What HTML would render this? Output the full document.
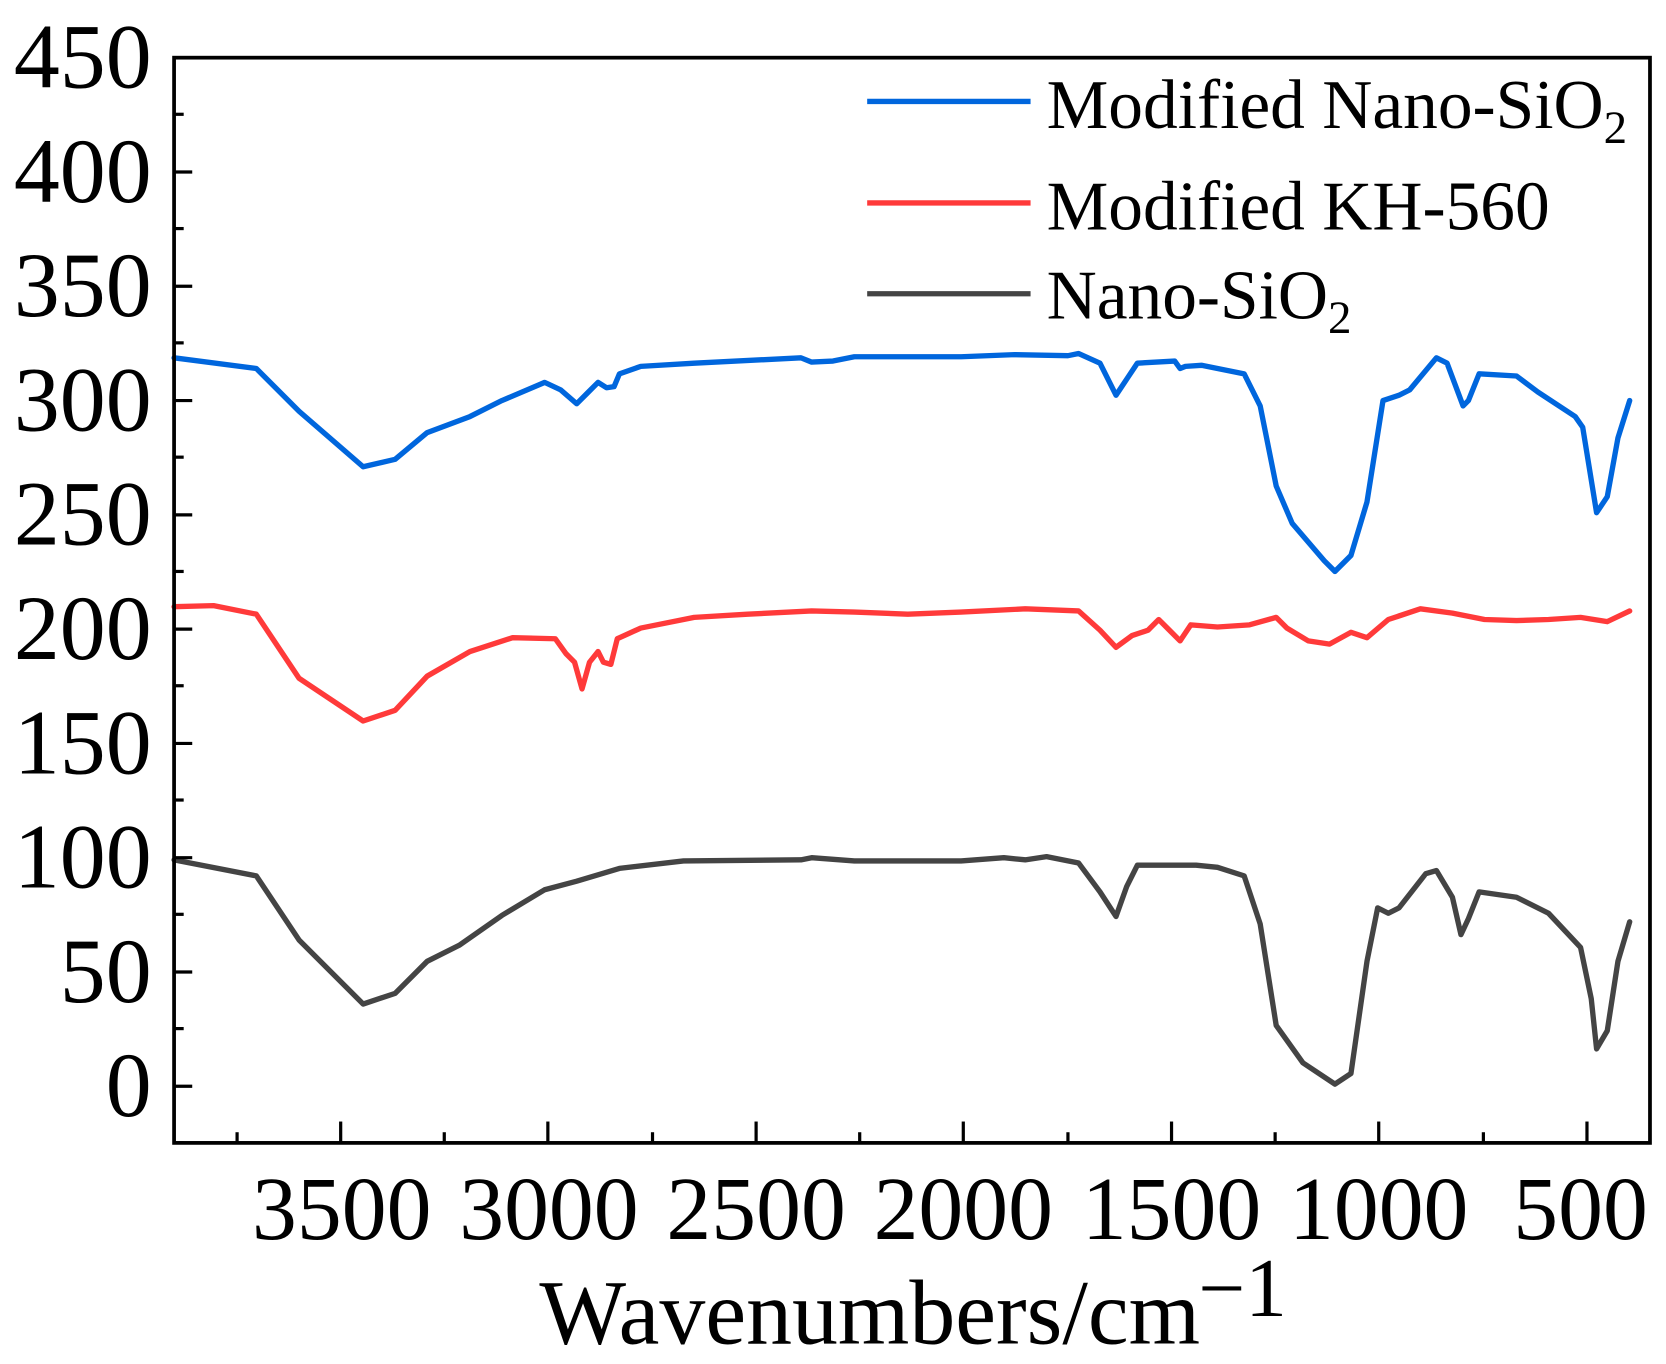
<!DOCTYPE html>
<html><head><style>html,body{margin:0;padding:0;background:#fff}svg{display:block}</style></head>
<body>
<svg width="1666" height="1364" viewBox="0 0 1560 1277" preserveAspectRatio="none" xmlns="http://www.w3.org/2000/svg" font-family="'Liberation Serif', serif">
<rect width="1560" height="1277" fill="#fff"/>
<g fill="none" stroke-linejoin="round" stroke-linecap="round" stroke-width="5">
<polyline stroke="#0066dd" points="163,335 240,345 280,385 340,437 370,430 400,405 440,390 470,375 510,358 525,365 540,378 550,368 560,358 568,363 575,362 580,350 600,343 650,340 750,335 760,339 780,338 800,334 900,334 950,332 1000,333 1010,331 1030,340 1045,370 1055,355 1065,340 1100,338 1105,345 1110,343 1125,342 1165,350 1180,380 1195,455 1210,490 1240,525 1250,535 1265,520 1280,470 1295,375 1310,370 1320,365 1345,335 1355,340 1370,380 1375,375 1385,350 1420,352 1440,367 1475,390 1482,400 1495,480 1505,465 1515,410 1526,375"/>
<polyline stroke="#ff3a3a" points="163,568 200,567 240,575 280,635 340,675 370,665 400,633 440,610 480,597 520,598 530,612 538,620 545,645 552,620 560,610 565,620 572,622 578,598 600,588 650,578 700,575 760,572 800,573 850,575 900,573 960,570 1010,572 1030,590 1045,606 1060,595 1075,590 1085,580 1095,590 1105,600 1115,585 1140,587 1170,585 1195,578 1205,588 1225,600 1245,603 1265,592 1280,597 1300,580 1330,570 1360,574 1390,580 1420,581 1450,580 1480,578 1505,582 1526,572"/>
<polyline stroke="#444" points="163,805 240,820 280,880 340,940 370,930 400,900 430,885 470,857 510,833 540,825 580,813 640,806 750,805 760,803 800,806 900,806 940,803 960,805 980,802 1010,808 1030,835 1045,858 1055,830 1065,810 1120,810 1140,812 1165,820 1180,865 1195,960 1220,995 1250,1015 1265,1005 1280,900 1290,850 1300,855 1310,850 1335,818 1345,815 1360,840 1368,875 1375,860 1385,835 1420,840 1450,855 1480,887 1490,935 1495,982 1505,965 1515,900 1526,863"/>
</g>
<rect x="163" y="54" width="1382" height="1016" fill="none" stroke="#000" stroke-width="3.5"/>
<g stroke="#000" stroke-width="3">
<line x1="163" y1="1017" x2="180" y2="1017"/><line x1="163" y1="910" x2="180" y2="910"/><line x1="163" y1="803" x2="180" y2="803"/><line x1="163" y1="696" x2="180" y2="696"/><line x1="163" y1="589" x2="180" y2="589"/><line x1="163" y1="482" x2="180" y2="482"/><line x1="163" y1="375" x2="180" y2="375"/><line x1="163" y1="268" x2="180" y2="268"/><line x1="163" y1="161" x2="180" y2="161"/>
<line x1="163" y1="1070" x2="172" y2="1070"/><line x1="163" y1="963" x2="172" y2="963"/><line x1="163" y1="856" x2="172" y2="856"/><line x1="163" y1="749" x2="172" y2="749"/><line x1="163" y1="642" x2="172" y2="642"/><line x1="163" y1="535" x2="172" y2="535"/><line x1="163" y1="428" x2="172" y2="428"/><line x1="163" y1="321" x2="172" y2="321"/><line x1="163" y1="214" x2="172" y2="214"/><line x1="163" y1="107" x2="172" y2="107"/>
<line x1="319" y1="1070" x2="319" y2="1050"/><line x1="513" y1="1070" x2="513" y2="1050"/><line x1="708" y1="1070" x2="708" y2="1050"/><line x1="902" y1="1070" x2="902" y2="1050"/><line x1="1097" y1="1070" x2="1097" y2="1050"/><line x1="1291" y1="1070" x2="1291" y2="1050"/><line x1="1486" y1="1070" x2="1486" y2="1050"/>
<line x1="222" y1="1070" x2="222" y2="1060"/><line x1="416" y1="1070" x2="416" y2="1060"/><line x1="611" y1="1070" x2="611" y2="1060"/><line x1="805" y1="1070" x2="805" y2="1060"/><line x1="1000" y1="1070" x2="1000" y2="1060"/><line x1="1194" y1="1070" x2="1194" y2="1060"/><line x1="1389" y1="1070" x2="1389" y2="1060"/>
</g>
<g font-size="86" text-anchor="end" fill="#000">
<text x="142" y="1045">0</text><text x="142" y="938">50</text><text x="142" y="831">100</text><text x="142" y="724">150</text><text x="142" y="617">200</text><text x="142" y="510">250</text><text x="142" y="403">300</text><text x="142" y="296">350</text><text x="142" y="189">400</text><text x="142" y="82">450</text>
</g>
<g font-size="84" text-anchor="middle" fill="#000">
<text x="320" y="1160">3500</text><text x="514" y="1160">3000</text><text x="708" y="1160">2500</text><text x="902" y="1160">2000</text><text x="1097" y="1160">1500</text><text x="1291" y="1160">1000</text><text x="1480" y="1160">500</text>
</g>
<text x="505" y="1258" font-size="86" fill="#000">Wavenumbers/cm</text>
<text x="1122" y="1232" font-size="78" fill="#000">−1</text>
<g stroke-width="5">
<line x1="812" y1="95" x2="965" y2="95" stroke="#0066dd"/>
<line x1="812" y1="190" x2="965" y2="190" stroke="#ff3a3a"/>
<line x1="812" y1="275" x2="965" y2="275" stroke="#444"/>
</g>
<g font-size="65" fill="#000">
<text x="980" y="120">Modified Nano-SiO<tspan font-size="44" dy="14">2</tspan></text>
<text x="980" y="215">Modified KH-560</text>
<text x="980" y="298">Nano-SiO<tspan font-size="44" dy="14">2</tspan></text>
</g>
</svg>
</body></html>
